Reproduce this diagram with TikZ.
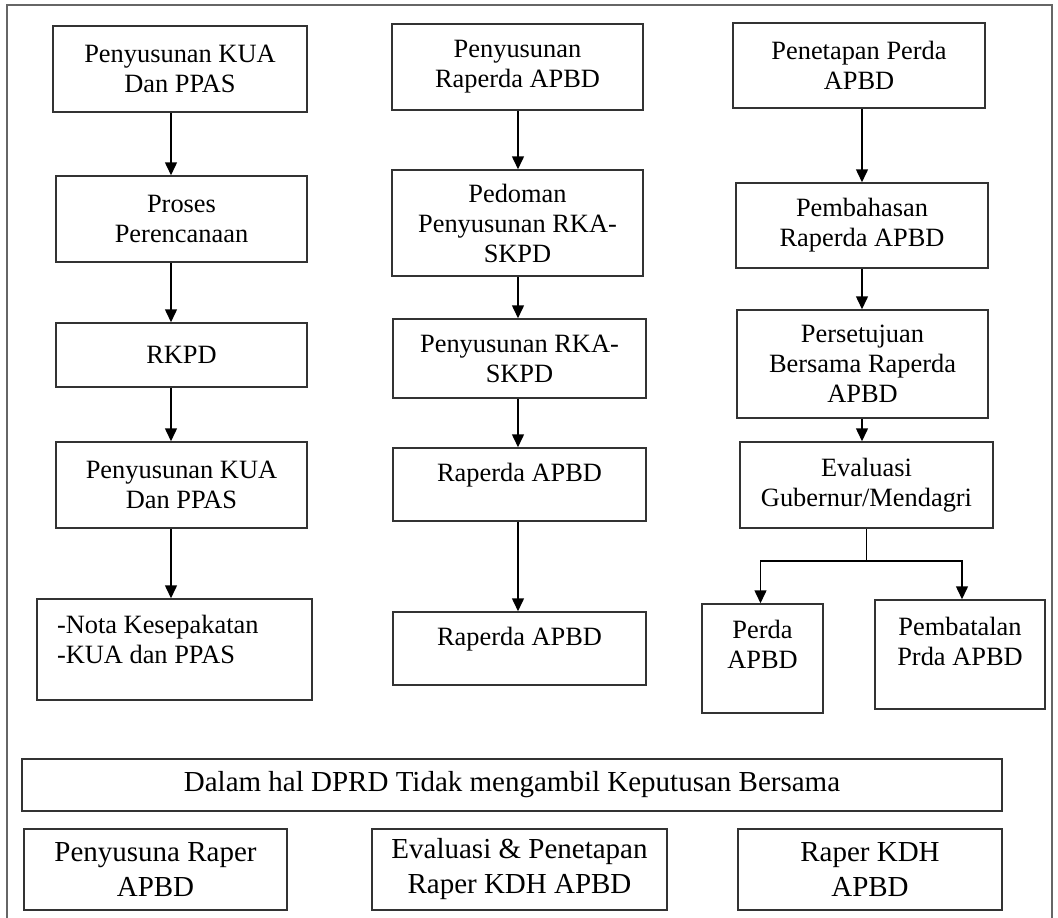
\documentclass[tikz,border=0pt]{standalone}
\usepackage{fontspec}
\setmainfont{Liberation Serif}
\usetikzlibrary{arrows.meta}
\begin{document}
\begin{tikzpicture}[x=1pt,y=-1pt,
  every node/.style={font=\fontsize{26.4}{30}\selectfont},
  box/.style={draw=black!80, line width=1.5pt, inner sep=0pt, align=center},
  sz/.style 2 args={minimum width=#1pt, minimum height=#2pt},
  big/.style={font=\fontsize{29}{35}\selectfont},
  arr/.style={-{Triangle[width=12pt,length=13pt]}, line width=1.5pt}]
\useasboundingbox (0,0) rectangle (1058,918);
\draw[black!60, line width=2.2pt] (7,918) |- (1052,5) -- (1052,918);
% kolom kiri
\node[box, sz={254}{86}] (kua) at (180,69) {Penyusunan KUA\\Dan PPAS};
\node[box, sz={251}{86}] (proses) at (181.5,219) {Proses\\Perencanaan};
\node[box, sz={251}{64}] (rkpd) at (181.5,355) {RKPD};
\node[box, sz={251}{86}] (kuab) at (181.5,485) {Penyusunan KUA\\Dan PPAS};
\node[box, minimum height=101pt, align=flush left, text width=235pt, inner xsep=20pt, text depth=50pt] (nota) at (174.5,649.5) {-Nota Kesepakatan\\-KUA dan PPAS};
% kolom tengah
\node[box, sz={251}{86}] (raper) at (517.5,67) {Penyusunan\\Raperda APBD};
\node[box, sz={251}{106}] (pedoman) at (517.5,223) {Pedoman\\Penyusunan RKA-\\SKPD};
\node[box, sz={253}{79}] (rka) at (519.5,358.5) {Penyusunan RKA-\\SKPD};
\node[box, sz={253}{73}, text depth=24pt] (rapa) at (519.5,484.5) {Raperda APBD};
\node[box, sz={253}{73}, text depth=24pt] (rapb) at (519.5,648.5) {Raperda APBD};
% kolom kanan
\node[box, sz={252}{85}] (tetap) at (859,65.5) {Penetapan Perda\\APBD};
\node[box, sz={252}{85}] (bahas) at (862,225.5) {Pembahasan\\Raperda APBD};
\node[box, sz={251}{108}] (setuju) at (862.5,364) {Persetujuan\\Bersama Raperda\\APBD};
\node[box, sz={253}{86}] (eval) at (866.5,485) {Evaluasi\\Gubernur/Mendagri};
\node[box, sz={121}{109}, text depth=28pt] (perda) at (762.5,658.5) {Perda\\APBD};
\node[box, sz={170}{109}, text depth=26pt] (batal) at (960,654.5) {Pembatalan\\Prda APBD};
% bawah
\node[box, big, sz={980}{52}] (dprd) at (512,785) {Dalam hal DPRD Tidak mengambil Keputusan Bersama};
\node[box, big, sz={263}{81}] (praper) at (155.5,869.5) {Penyusuna Raper\\APBD};
\node[box, big, sz={295}{81}] (evtp) at (519.5,869.5) {Evaluasi \& Penetapan\\Raper KDH APBD};
\node[box, big, sz={264}{81}] (kdh) at (870,869.5) {Raper KDH\\APBD};
% panah
\coordinate (c1) at (171,0);
\coordinate (c2) at (518,0);
\coordinate (c3) at (862,0);
\foreach \a/\b in {kua/proses, proses/rkpd, rkpd/kuab, kuab/nota}
  \draw[arr] (\a.south -| c1) -- (\b.north -| c1);
\foreach \a/\b in {raper/pedoman, pedoman/rka, rka/rapa, rapa/rapb}
  \draw[arr] (\a.south -| c2) -- (\b.north -| c2);
\foreach \a/\b in {tetap/bahas, bahas/setuju, setuju/eval}
  \draw[arr] (\a.south -| c3) -- (\b.north -| c3);
\draw[line width=1.5pt] (eval.south) -- ++(0,32) coordinate (j);
\draw[arr] (j) -| ([xshift=-2pt]perda.north);
\draw[arr] (j) -| ([xshift=2pt]batal.north);
\end{tikzpicture}
\end{document}
